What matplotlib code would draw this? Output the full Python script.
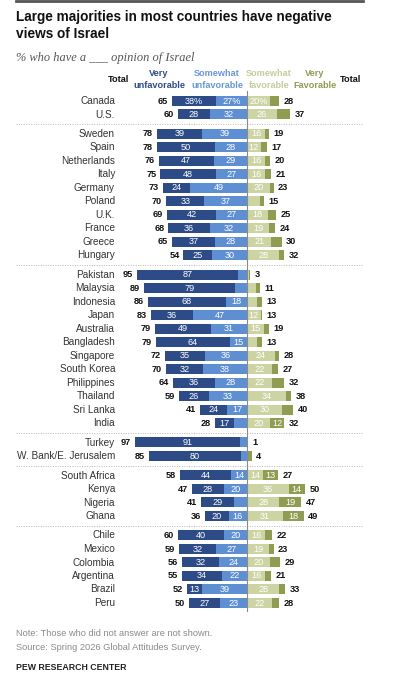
import matplotlib
matplotlib.use("Agg")
import matplotlib.pyplot as plt

countries = ["Canada", "U.S.",
             "Sweden", "Spain", "Netherlands", "Italy", "Germany", "Poland", "U.K.", "France", "Greece", "Hungary",
             "Pakistan", "Malaysia", "Indonesia", "Japan", "Australia", "Bangladesh", "Singapore", "South Korea",
             "Philippines", "Thailand", "Sri Lanka", "India",
             "Turkey", "W. Bank/E. Jerusalem",
             "South Africa", "Kenya", "Nigeria", "Ghana",
             "Chile", "Mexico", "Colombia", "Argentina", "Brazil", "Peru"]
group_sizes = [2, 10, 12, 2, 4, 6]

very_unfav = [38, 28, 39, 50, 47, 48, 24, 33, 42, 36, 37, 25,
              87, 79, 68, 36, 49, 64, 35, 32, 36, 26, 24, 17,
              91, 80, 44, 28, 29, 20, 40, 32, 32, 34, 13, 27]
some_unfav = [27, 32, 39, 28, 29, 27, 49, 37, 27, 32, 28, 30,
              8, 10, 18, 47, 31, 15, 36, 38, 28, 33, 17, 11,
              6, 5, 14, 20, 11, 16, 20, 27, 24, 22, 39, 23]
some_fav = [20, 26, 16, 12, 16, 16, 20, 11, 18, 19, 21, 28,
            2, 8, 9, 12, 15, 9, 24, 22, 22, 34, 30, 20,
            1, 1, 14, 36, 28, 31, 16, 19, 20, 16, 28, 22]
very_fav = [8, 11, 3, 5, 4, 5, 3, 4, 7, 5, 9, 4,
            1, 3, 4, 1, 4, 4, 4, 5, 10, 4, 10, 12,
            0, 3, 13, 14, 19, 18, 6, 4, 9, 5, 5, 6]
total_unfav = [65, 60, 78, 78, 76, 75, 73, 70, 69, 68, 65, 54,
               95, 89, 86, 83, 79, 79, 72, 70, 64, 59, 41, 28,
               97, 85, 58, 47, 41, 36, 60, 59, 56, 55, 52, 50]
total_fav = [28, 37, 19, 17, 20, 21, 23, 15, 25, 24, 30, 32,
             3, 11, 13, 13, 19, 13, 28, 27, 32, 38, 40, 32,
             1, 4, 27, 50, 47, 49, 22, 23, 29, 21, 33, 28]

C_VU = "#2d4b86"
C_SU = "#5e8fd3"
C_SF = "#cdd4a3"
C_VF = "#8f9c52"

W, H = 416, 680
fig = plt.figure(figsize=(W / 100, H / 100), dpi=100)
ax = fig.add_axes([0, 0, 1, 1])
PXU = 1.155  # px per percent
X0 = 247
ax.set_xlim(-X0 / PXU, (W - X0) / PXU)
ax.set_ylim(H, 0)
ax.axis("off")

def xu(px):
    return (px - X0) / PXU

FONT = "Liberation Sans"

# row positions
step, gap, y0 = 13.5, 5.9, 100.7
ys = []
group_ends = []
i = 0
for g, n in enumerate(group_sizes):
    for k in range(n):
        ys.append(y0 + i * step + g * gap)
        i += 1
    group_ends.append(ys[-1])

bh = 10
for idx, name in enumerate(countries):
    y = ys[idx]
    vu, su, sf, vf = very_unfav[idx], some_unfav[idx], some_fav[idx], very_fav[idx]
    ax.barh(y, -vu, left=-su, height=bh, color=C_VU, linewidth=0)
    ax.barh(y, -su, left=0, height=bh, color=C_SU, linewidth=0)
    ax.barh(y, sf, left=0, height=bh, color=C_SF, linewidth=0)
    ax.barh(y, vf, left=sf, height=bh, color=C_VF, linewidth=0)
    suffix = "%" if idx == 0 else ""
    for val, cx in [(vu, -su - vu / 2), (su, -su / 2), (sf, sf / 2), (vf, sf + vf / 2)]:
        if val >= 12:
            ax.text(cx, y + 0.3, f"{val}{suffix}", ha="center", va="center", color="white",
                    fontsize=6.6, family=FONT)
    ax.text(-(vu + su) - 4 / PXU, y + 0.3, str(total_unfav[idx]), ha="right", va="center",
            fontsize=6.6, fontweight="bold", family=FONT, color="#111111")
    ax.text(sf + vf + 4.5 / PXU, y + 0.3, str(total_fav[idx]), ha="left", va="center",
            fontsize=6.6, fontweight="bold", family=FONT, color="#111111")
    ax.text(xu(115), y + 0.3, name, ha="right", va="center", fontsize=7.2, family=FONT, color="#333333")

# separators
for ge in group_ends[:-1]:
    ys_sep = ge + (step + gap) / 2 + 0.3
    ax.plot([xu(16), xu(363)], [ys_sep, ys_sep], color="#b8b8b8", lw=0.7, ls=(0, (1, 1.5)))

# center line
ax.plot([0, 0], [91, 611], color="#8a8a8a", lw=0.8)

# top rule
ax.plot([xu(16), xu(363)], [1, 1], color="#555555", lw=2)

# title & subtitle
ax.text(xu(16), 17.5, "Large majorities in most countries have negative", ha="left", va="center",
        fontsize=9.8, fontweight="bold", family=FONT, color="#111111")
ax.text(xu(16), 33.5, "views of Israel", ha="left", va="center",
        fontsize=9.8, fontweight="bold", family=FONT, color="#111111")
ax.text(xu(16), 58, "% who have a ___ opinion of Israel", ha="left", va="center",
        fontsize=8.9, style="italic", family="Liberation Serif", color="#555555")

# header
hfs = 6.6
ax.text(xu(129), 80, "Total", ha="right", va="center", fontsize=hfs, fontweight="bold", family=FONT, color="#111111")
ax.text(xu(340), 80, "Total", ha="left", va="center", fontsize=hfs, fontweight="bold", family=FONT, color="#111111")
for cx, top, bot, col in [(159, "Very", "unfavorable", C_VU),
                          (217, "Somewhat", "unfavorable", "#6a97d6"),
                          (269, "Somewhat", "favorable", "#c6cd9b"),
                          (315, "Very", "Favorable", "#8f9c52")]:
    ax.text(xu(cx), 74, top, ha="center", va="center", fontsize=hfs, fontweight="bold", family=FONT, color=col)
    ax.text(xu(cx), 86, bot, ha="center", va="center", fontsize=hfs, fontweight="bold", family=FONT, color=col)

# footer
ax.text(xu(16), 634, "Note: Those who did not answer are not shown.", ha="left", va="center",
        fontsize=6.7, family=FONT, color="#8a8a8a")
ax.text(xu(16), 648, "Source: Spring 2026 Global Attitudes Survey.", ha="left", va="center",
        fontsize=6.7, family=FONT, color="#8a8a8a")
ax.text(xu(16), 667, "PEW RESEARCH CENTER", ha="left", va="center",
        fontsize=6.3, fontweight="bold", family=FONT, color="#222222")

fig.savefig("out.png", dpi=100, facecolor="white")
